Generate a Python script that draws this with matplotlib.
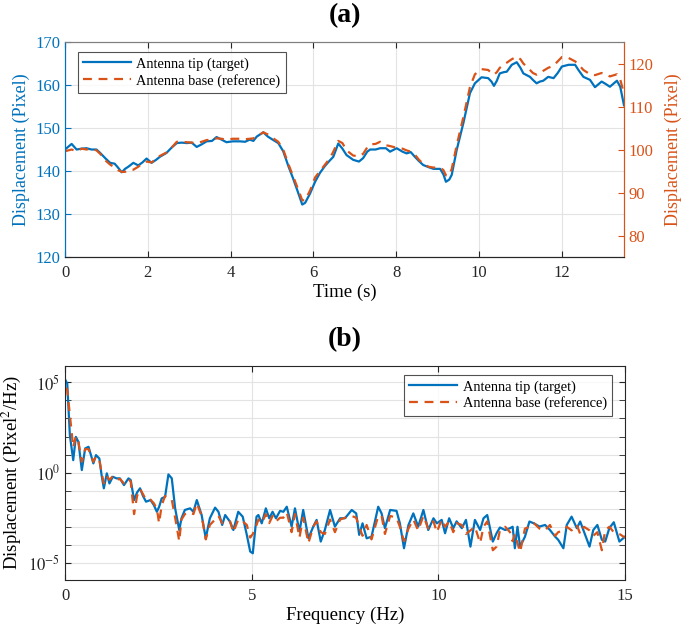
import numpy as np
import matplotlib
matplotlib.use("Agg")
import matplotlib.pyplot as plt
from matplotlib.ticker import FixedLocator, FixedFormatter, NullFormatter

plt.rcParams['font.family'] = ['Liberation Serif', 'DejaVu Serif']
plt.rcParams['mathtext.fontset'] = 'stix'

BLUE = '#0072BD'
ORANGE = '#D95319'
GRID = '#e3e3e3'
DARK = '#262626'

# (a) displacement vs time
time_s = [0.00, 0.16, 0.28, 0.40, 0.52, 0.64, 0.76, 0.85, 0.97, 1.09, 1.20, 1.28, 1.37, 1.45,
          1.53, 1.65, 1.77, 1.87, 1.97, 2.09, 2.20, 2.29, 2.45, 2.58, 2.70, 2.82, 2.94, 3.06,
          3.18, 3.30, 3.42, 3.55, 3.66, 3.78, 3.90, 4.05, 4.22, 4.35, 4.46, 4.55, 4.63, 4.79,
          4.90, 5.03, 5.15, 5.27, 5.40, 5.50, 5.60, 5.73, 5.80, 5.92, 6.04, 6.16, 6.28, 6.40,
          6.48, 6.60, 6.70, 6.80, 6.96, 7.10, 7.20, 7.30, 7.37, 7.50, 7.61, 7.75, 7.85, 8.01,
          8.15, 8.25, 8.35, 8.45, 8.55, 8.65, 8.78, 8.90, 9.06, 9.14, 9.20, 9.28, 9.34, 9.46,
          9.62, 9.78, 9.90, 10.06, 10.22, 10.30, 10.36, 10.43, 10.50, 10.60, 10.67, 10.79,
          10.91, 11.00, 11.07, 11.23, 11.30, 11.39, 11.47, 11.55, 11.67, 11.80, 11.90, 12.00,
          12.16, 12.32, 12.40, 12.52, 12.68, 12.80, 12.96, 13.05, 13.16, 13.33, 13.41, 13.50]

tip_px = [145.0, 146.3, 145.0, 145.2, 145.3, 145.0, 145.0, 144.2, 143.0, 141.9, 141.7, 140.8,
          139.7, 140.5, 141.0, 141.9, 141.3, 142.0, 142.9, 141.9, 142.6, 143.3, 144.2, 145.5,
          146.5, 146.6, 146.5, 146.6, 145.6, 146.2, 146.9, 147.0, 147.9, 147.3, 146.7, 146.9,
          146.9, 146.8, 147.3, 147.0, 148.0, 149.0, 148.0, 147.2, 146.5, 144.6, 141.0, 138.5,
          135.8, 132.2, 132.6, 134.8, 137.5, 139.6, 141.2, 142.5, 143.3, 146.4, 145.2, 143.7,
          142.6, 142.2, 143.0, 144.5, 145.0, 145.0, 145.3, 145.3, 144.5, 145.3, 144.5, 144.1,
          144.4, 143.3, 142.3, 141.4, 140.9, 140.5, 140.5, 139.2, 137.5, 138.0, 139.1, 144.9,
          151.1, 158.1, 160.4, 161.8, 161.6, 160.8, 159.8, 161.0, 162.7, 163.0, 163.1, 164.7,
          165.3, 164.0, 162.7, 161.9, 161.2, 160.4, 160.8, 161.0, 161.9, 161.6, 162.8, 164.3,
          164.7, 164.7, 163.5, 161.9, 161.2, 159.5, 160.8, 160.3, 159.6, 161.0, 159.6, 155.3]

base_px = [99.6, 100.0, 99.6, 100.2, 100.0, 100.2, 99.8, 99.0, 97.5, 96.5, 95.8, 95.2,
           94.8, 94.8, 95.2, 95.3, 96.0, 96.8, 97.2, 97.0, 97.8, 98.5, 99.3, 100.5,
           101.8, 101.8, 101.7, 101.6, 101.5, 101.8, 102.2, 102.3, 102.6, 102.5, 102.3, 102.5,
           102.5, 102.4, 102.5, 102.6, 103.0, 104.0, 103.5, 102.6, 101.8, 100.0, 96.5, 94.0,
           91.5, 88.2, 88.2, 90.5, 93.5, 95.0, 96.5, 98.0, 99.5, 102.0, 101.5, 99.8,
           98.6, 98.4, 99.0, 100.5, 101.2, 101.3, 101.8, 101.0, 100.8, 100.4, 100.2, 99.8,
           99.5, 98.8, 97.6, 96.7, 96.0, 95.8, 95.8, 95.2, 94.0, 94.0, 95.5, 101.0,
           107.5, 114.5, 117.5, 118.7, 118.5, 117.8, 117.4, 118.0, 119.0, 119.8, 120.2, 121.0,
           121.6, 121.0, 120.0, 118.5, 117.8, 117.4, 117.8, 118.3, 119.0, 119.5, 120.5, 121.5,
           121.3, 120.5, 119.8, 118.5, 117.5, 117.3, 117.8, 117.6, 117.0, 117.5, 116.3, 113.0]

# (b) PSD, values stored as log10
freq_hz = [0.00, 0.06, 0.13, 0.22, 0.29, 0.36, 0.45, 0.54, 0.63, 0.76, 0.83, 0.92, 0.98, 1.04,
           1.12, 1.19, 1.28, 1.38, 1.47, 1.58, 1.70, 1.76, 1.85, 1.93, 2.01, 2.09, 2.17, 2.29,
           2.38, 2.46, 2.52, 2.59, 2.68, 2.77, 2.86, 2.95, 3.06, 3.12, 3.21, 3.35, 3.44, 3.53,
           3.66, 3.77, 3.88, 4.02, 4.11, 4.21, 4.29, 4.42, 4.51, 4.64, 4.76, 4.87, 4.96, 5.03,
           5.13, 5.18, 5.27, 5.38, 5.47, 5.56, 5.65, 5.76, 5.85, 5.94, 6.07, 6.16, 6.28, 6.38,
           6.52, 6.65, 6.74, 6.85, 6.96, 7.10, 7.23, 7.37, 7.50, 7.68, 7.80, 7.88, 7.97, 8.08,
           8.21, 8.39, 8.48, 8.57, 8.71, 8.88, 8.97, 9.08, 9.20, 9.33, 9.46, 9.60, 9.73, 9.87,
           9.96, 10.09, 10.18, 10.29, 10.40, 10.49, 10.63, 10.74, 10.86, 10.98, 11.12, 11.21,
           11.31, 11.46, 11.56, 11.65, 11.79, 11.92, 11.99, 12.05, 12.12, 12.19, 12.32, 12.44,
           12.56, 12.71, 12.86, 12.99, 13.13, 13.21, 13.35, 13.44, 13.57, 13.71, 13.80, 13.90,
           14.05, 14.15, 14.26, 14.38, 14.47, 14.58, 14.70, 14.85, 15.00]

psd_tip_log = [5.17, 4.93, 2.07, 0.69, 1.98, 1.70, 0.14, 1.34, 1.43, 0.51, 0.97, 0.78, -0.14, -0.87,
               -0.04, -0.60, -0.23, -0.32, -0.32, -0.69, -0.32, -0.41, -1.52, -1.10, -0.87, -1.30, -1.61, -1.52,
               -1.80, -2.17, -1.90, -1.43, -1.34, -0.10, -0.32, -1.98, -3.18, -2.53, -2.07, -1.98, -2.17, -1.52,
               -2.35, -3.64, -2.53, -1.94, -2.17, -2.90, -2.35, -2.72, -3.18, -2.17, -2.44, -3.45, -4.37, -4.47,
               -2.44, -2.35, -2.81, -1.98, -2.53, -2.17, -2.53, -2.12, -2.17, -1.89, -2.99, -1.98, -3.27, -2.07,
               -3.64, -2.99, -2.62, -3.82, -3.18, -2.07, -2.99, -2.53, -2.53, -2.07, -2.26, -3.45, -2.81, -3.64,
               -3.55, -1.89, -2.26, -3.08, -2.07, -2.12, -2.81, -4.19, -2.90, -2.26, -2.99, -2.07, -3.18, -2.53,
               -2.81, -2.62, -3.36, -2.53, -3.08, -2.70, -3.08, -2.62, -4.10, -2.62, -3.18, -2.53,
               -2.35, -3.82, -3.36, -3.04, -3.18, -3.08, -3.00, -4.19, -3.00, -4.10, -3.55, -2.71,
               -2.81, -2.99, -2.90, -3.18, -3.55, -3.72, -4.19, -2.90, -2.44, -3.08, -2.71, -3.27,
               -4.10, -3.18, -2.90, -3.72, -3.82, -3.08, -2.75, -3.82, -3.55]

psd_base_log = [4.70, 4.60, 3.18, 1.40, 2.00, 1.70, 0.60, 1.30, 1.30, 0.60, 0.90, 0.70, 0.00, -0.60,
                -0.20, -0.40, -0.20, -0.40, -0.35, -0.60, -0.35, -0.50, -2.30, -1.30, -0.90, -1.20, -1.50, -1.50,
                -1.70, -2.00, -2.80, -1.80, -1.30, -1.40, -1.50, -2.50, -3.80, -2.60, -2.30, -2.20, -2.30, -1.70,
                -2.40, -3.70, -2.90, -2.60, -2.40, -2.80, -2.70, -2.70, -3.30, -2.60, -2.70, -2.90, -3.60, -3.40,
                -2.90, -2.60, -2.80, -2.30, -2.80, -2.40, -2.70, -2.50, -2.50, -2.20, -3.30, -2.30, -3.60, -2.50,
                -3.90, -3.00, -2.70, -3.30, -3.40, -2.60, -3.30, -2.60, -2.50, -2.40, -2.50, -3.00, -3.50, -2.90,
                -3.70, -2.40, -2.40, -3.40, -2.40, -2.50, -3.00, -3.80, -3.10, -2.60, -3.20, -2.40, -3.10, -2.70,
                -3.30, -2.60, -3.00, -2.70, -3.30, -2.80, -2.90, -3.40, -3.20, -3.00, -3.90, -3.00,
                -2.70, -4.30, -4.10, -3.20, -3.00, -3.30, -3.80, -3.40, -3.90, -4.40, -3.10, -3.00,
                -2.80, -3.10, -3.20, -2.90, -3.50, -3.30, -3.20, -3.00, -3.20, -2.90, -3.40, -3.00,
                -3.20, -3.50, -3.30, -4.30, -3.20, -3.00, -3.30, -3.40, -3.60]

LEGEND_LABELS = ['Antenna tip (target)', 'Antenna base (reference)']


def style_axes(ax):
    ax.tick_params(direction='in', which='both', labelsize=12, length=4)
    ax.tick_params(axis='x', pad=6)
    ax.grid(True, which='major', color=GRID, linewidth=0.8)
    ax.set_axisbelow(True)


def add_legend(ax, handles, loc, anchor):
    leg = ax.legend(handles, LEGEND_LABELS, loc=loc, bbox_to_anchor=anchor,
                    borderaxespad=0, fontsize=10.4, handlelength=3.3, fancybox=False,
                    edgecolor=DARK, borderpad=0.35, labelspacing=0.2, handletextpad=0.4)
    leg.get_frame().set_linewidth(0.8)
    return leg


fig = plt.figure(figsize=(6.85, 6.31), dpi=100)

# ---- (a) ----
ax1 = fig.add_axes([0.0949, 0.5927, 0.816, 0.3407])
ax2 = ax1.twinx()
l1, = ax1.plot(time_s, tip_px, color=BLUE, linewidth=1.6)
l2, = ax2.plot(time_s, base_px, color=ORANGE, linewidth=1.6, linestyle=(0, (4, 3)))
ax1.set_xlim(0, 13.5)
ax1.set_ylim(120, 170)
ax2.set_ylim(75, 125)
ax1.set_xticks([0, 2, 4, 6, 8, 10, 12])
ax1.set_yticks([120, 130, 140, 150, 160, 170])
ax2.set_yticks([80, 90, 100, 110, 120])
style_axes(ax1)
ax1.tick_params(top=True, colors=DARK, axis='x')
ax1.tick_params(axis='y', colors=BLUE)
ax2.tick_params(axis='y', colors=ORANGE, direction='in', labelsize=12, length=4)
for a in (ax1, ax2):
    a.spines['left'].set_color(BLUE)
    a.spines['right'].set_color(ORANGE)
    a.spines['top'].set_color('#7f7f7f')
    a.spines['bottom'].set_color(DARK)
ax1.set_ylabel('Displacement (Pixel)', color=BLUE, fontsize=13)
ax2.set_ylabel('Displacement (Pixel)', color=ORANGE, fontsize=13, labelpad=8)
ax1.set_xlabel('Time (s)', fontsize=13.5, labelpad=2)
add_legend(ax1, [l1, l2], 'upper left', (0.023, 0.953))
fig.text(0.504, 0.976, '(a)', ha='center', va='center', fontsize=20, fontweight='bold')

# ---- (b) ----
ax3 = fig.add_axes([0.0949, 0.0808, 0.8175, 0.339])
l3, = ax3.semilogy(freq_hz, 10.0 ** np.array(psd_tip_log), color=BLUE, linewidth=1.6)
l4, = ax3.semilogy(freq_hz, 10.0 ** np.array(psd_base_log), color=ORANGE, linewidth=1.6,
                   linestyle=(0, (4, 3)))
ax3.set_xlim(0, 15)
ax3.set_ylim(10 ** -5.95, 10 ** 5.9)
ax3.set_xticks([0, 5, 10, 15])
ax3.yaxis.set_major_locator(FixedLocator([1e-5, 1e0, 1e5]))
ax3.yaxis.set_major_formatter(FixedFormatter(['$10^{-5}$', '$10^{0}$', '$10^{5}$']))
ax3.yaxis.set_minor_locator(FixedLocator([10.0 ** k for k in range(-5, 6)]))
ax3.yaxis.set_minor_formatter(NullFormatter())
style_axes(ax3)
ax3.grid(True, which='minor', axis='y', color=GRID, linewidth=0.8)
ax3.tick_params(top=True, right=True, which='both', colors=DARK)
for s in ax3.spines.values():
    s.set_color(DARK)
ax3.set_ylabel('Displacement (Pixel$^2$/Hz)', fontsize=13.5)
ax3.set_xlabel('Frequency (Hz)', fontsize=13.5, labelpad=2)
add_legend(ax3, [l3, l4], 'upper right', (0.977, 0.958))
fig.text(0.504, 0.461, '(b)', ha='center', va='center', fontsize=20, fontweight='bold')

fig.savefig('out.png', dpi=100)
